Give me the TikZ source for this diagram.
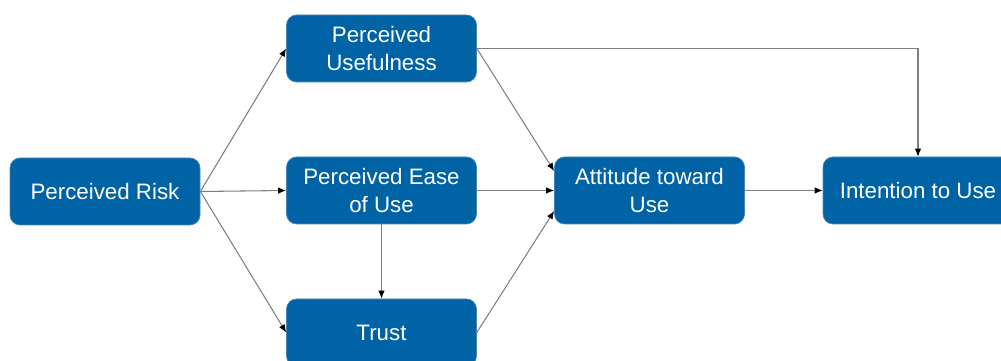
\documentclass[tikz,border=0pt]{standalone}
\usepackage{fontspec}
\setmainfont{Liberation Sans}
\usetikzlibrary{arrows.meta}

\definecolor{boxblue}{HTML}{0063A6}
\definecolor{boxedge}{HTML}{4A86BC}
\definecolor{linkgray}{HTML}{7F7F7F}

\begin{document}
\begin{tikzpicture}[
  box/.style={draw=boxedge, line width=0.4pt, fill=boxblue, rounded corners=0.2cm,
    text=white, align=center, minimum width=3.8cm, minimum height=1.34cm,
    inner sep=0pt, font=\fontsize{12.7}{15.4}\selectfont},
  link/.style={draw=linkgray, line width=0.6pt, -{Latex[length=1.6mm,width=1.3mm,black]}}
]

\useasboundingbox (0,0) rectangle (20.02,7.22);

\node [box] (risk) at (2.10,3.39) {Perceived Risk};
\node [box] (pu) at (7.63,6.25) {Perceived\\Usefulness};
\node [box] (peou) at (7.63,3.41) {Perceived Ease\\of Use};
\node [box] (trust) at (7.63,0.57) {Trust};
\node [box] (att) at (12.99,3.41) {Attitude toward\\Use};
\node [box] (int) at (18.36,3.41) {Intention to Use};

\draw[link] (risk.east)--(pu.west);
\draw[link] (risk.east)--(peou.west);
\draw[link] (risk.east)--(trust.west);

\draw[link] (peou.south)--(trust.north);

\draw[link] (pu.east)--([yshift=0.39cm]att.west);
\draw[link] (peou.east)--(att.west);
\draw[link] (trust.east)--([yshift=-0.41cm]att.west);

\draw[link] (att.east)--(int.west);
\draw[link] (pu.east)-|(int.north);

\end{tikzpicture}
\end{document}
